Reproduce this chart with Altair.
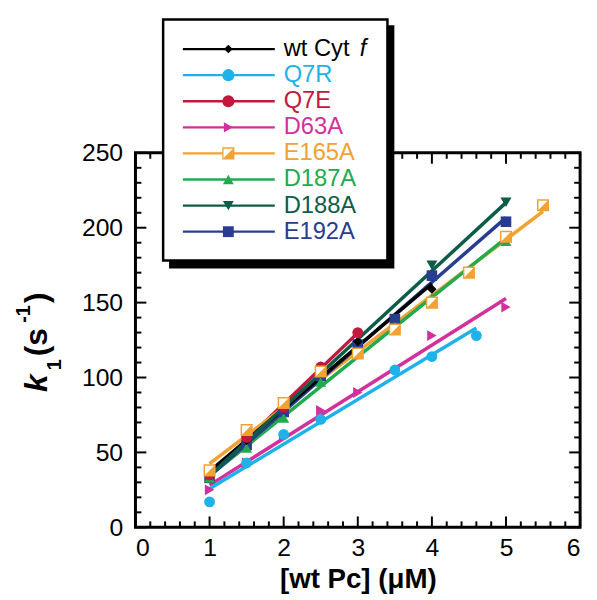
import altair as alt
import pandas as pd

# ---------------- data ----------------
series = ["wt Cyt f", "Q7R", "Q7E", "D63A", "E165A", "D187A", "D188A", "E192A"]
colors = ["#000000", "#1fb2ea", "#c2183c", "#d2309c", "#f2a232", "#22aa4e", "#0c5c4a", "#283c90"]
shapes = ["diamond", "circle", "circle", "triangle-right", "square", "triangle-up", "triangle-down", "square"]

wt_x = [1, 1.5, 2, 2.5, 3, 4]
wt_y = [35, 58, 79, 103, 124, 159]
q7r_x = [1, 1.5, 2, 2.5, 3.5, 4, 4.6]
q7r_y = [17, 43, 62, 72, 105, 114, 128]
q7e_x = [1, 1.5, 2, 2.5, 3]
q7e_y = [35, 60, 80, 107, 130]
d63a_x = [1, 1.5, 2, 2.5, 3, 4, 5]
d63a_y = [25, 43, 60, 78, 90, 128, 147]
e165a_x = [1, 1.5, 2, 2.5, 3, 3.5, 4, 4.5, 5, 5.5]
e165a_y = [38, 65, 83, 104, 116, 132, 150, 170, 194, 215]
d187a_x = [1, 1.5, 2, 2.5, 3, 3.5, 4, 5]
d187a_y = [33, 53, 73, 97, 117, 134, 153, 191]
d188a_x = [1, 1.5, 2, 2.5, 3, 4, 5]
d188a_y = [37, 58, 79, 101, 121, 175, 217]
e192a_x = [1, 1.5, 2, 2.5, 3, 3.5, 4, 5]
e192a_y = [33, 55, 77, 101, 122, 139, 168, 204]

xs = [wt_x, q7r_x, q7e_x, d63a_x, e165a_x, d187a_x, d188a_x, e192a_x]
ys = [wt_y, q7r_y, q7e_y, d63a_y, e165a_y, d187a_y, d188a_y, e192a_y]

x_major = [0, 1, 2, 3, 4, 5, 6]
x_minor = [round(i * 0.2, 1) for i in range(31) if i % 5 != 0]
y_major = [0, 50, 100, 150, 200, 250]
y_minor = [i * 10 for i in range(26) if i % 5 != 0]

# legend row offsets (layout)
legend_rows = [-105 + 26.4 * i for i in range(8)]

W, H = 450, 379
FONT = "Liberation Sans"

frames = {s: pd.DataFrame({"x": xs[i], "y": ys[i]}) for i, s in enumerate(series)}
one = pd.DataFrame({"a": [0]})

xscale = alt.Scale(domain=[0, 6], nice=False, zero=False)
yscale = alt.Scale(domain=[0, 250], nice=False, zero=False)

X = alt.X("x:Q", scale=xscale,
          axis=alt.Axis(values=x_major, ticks=False, domain=False, grid=False,
                        labelFontSize=25, labelFont=FONT, labelColor="black",
                        labelPadding=9, title="[wt Pc] (μM)", titleFont=FONT,
                        titleFontSize=28, titleFontWeight="bold", titleColor="black",
                        titlePadding=5))
Y = alt.Y("y:Q", scale=yscale,
          axis=alt.Axis(values=y_major, ticks=False, domain=False, grid=False,
                        labelFontSize=25, labelFont=FONT, labelColor="black",
                        labelPadding=13, title=None))

layers = []

# regression lines
line_order = ["Q7E", "D63A", "Q7R", "E165A", "D187A", "E192A", "wt Cyt f", "D188A"]
for s in line_order:
    c = colors[series.index(s)]
    layers.append(
        alt.Chart(frames[s]).transform_regression("x", "y")
        .mark_line(color=c, strokeWidth=3.5).encode(x=X, y=Y)
    )

# data points
point_order = ["D188A", "E192A", "D187A", "wt Cyt f", "Q7E", "E165A", "D63A", "Q7R"]
sizes = {"diamond": 90, "circle": 120, "triangle-right": 120, "square": 115,
         "triangle-up": 125, "triangle-down": 125}
half = "M 1 -1 L 1 1 L -1 1 Z"
for s in point_order:
    i = series.index(s)
    c = colors[i]
    sh = shapes[i]
    if s == "E165A":
        layers.append(alt.Chart(frames[s]).mark_point(shape="square", filled=True, fill="white",
                                                      stroke=c, strokeWidth=1.5, size=115, opacity=1)
                      .encode(x=X, y=Y))
        layers.append(alt.Chart(frames[s]).mark_point(shape=half, filled=True, color=c, size=115, opacity=1)
                      .encode(x=X, y=Y))
    else:
        layers.append(alt.Chart(frames[s]).mark_point(shape=sh, filled=True, color=c, size=sizes[sh], opacity=1)
                      .encode(x=X, y=Y))

# frame
layers.append(alt.Chart(one).mark_rect(filled=False, stroke="black", strokeWidth=3)
              .encode(x=alt.value(0), x2=alt.value(W), y=alt.value(0), y2=alt.value(H)))

# inward ticks on all four sides
def xticks(vals, ln):
    d = pd.DataFrame({"x": vals})
    b = alt.Chart(d).mark_rule(color="black", strokeWidth=2).encode(
        x=X, y=alt.value(H), y2=alt.value(H - ln))
    t = alt.Chart(d).mark_rule(color="black", strokeWidth=2).encode(
        x=X, y=alt.value(0), y2=alt.value(ln))
    return [b, t]

def yticks(vals, ln):
    d = pd.DataFrame({"y": vals})
    l = alt.Chart(d).mark_rule(color="black", strokeWidth=2).encode(
        y=Y, x=alt.value(0), x2=alt.value(ln))
    r = alt.Chart(d).mark_rule(color="black", strokeWidth=2).encode(
        y=Y, x=alt.value(W), x2=alt.value(W - ln))
    return [l, r]

layers += xticks(x_major, 11) + xticks(x_minor, 6) + yticks(y_major, 11) + yticks(y_minor, 6)

# legend box with drop shadow
layers.append(alt.Chart(one).mark_rect(color="black")
              .encode(x=alt.value(34), x2=alt.value(262), y=alt.value(-129), y2=alt.value(117)))
layers.append(alt.Chart(one).mark_rect(fill="white", stroke="black", strokeWidth=2.5)
              .encode(x=alt.value(28), x2=alt.value(255), y=alt.value(-135), y2=alt.value(109)))

leg_sizes = {"diamond": 75, "circle": 150, "triangle-right": 110, "square": 120,
             "triangle-up": 120, "triangle-down": 120}
for i, s in enumerate(series):
    c = colors[i]
    ry = legend_rows[i]
    layers.append(alt.Chart(one).mark_rule(color=c, strokeWidth=2.4)
                  .encode(x=alt.value(48), x2=alt.value(141), y=alt.value(ry)))
    if s == "E165A":
        layers.append(alt.Chart(one).mark_point(shape="square", filled=True, fill="white", stroke=c,
                                                strokeWidth=1.3, size=leg_sizes["square"], opacity=1)
                      .encode(x=alt.value(94), y=alt.value(ry)))
        layers.append(alt.Chart(one).mark_point(shape=half, filled=True, color=c,
                                                size=leg_sizes["square"], opacity=1)
                      .encode(x=alt.value(94), y=alt.value(ry)))
    else:
        layers.append(alt.Chart(one).mark_point(shape=shapes[i], filled=True, color=c,
                                                size=leg_sizes[shapes[i]], opacity=1)
                      .encode(x=alt.value(94), y=alt.value(ry)))
    if s == "wt Cyt f":
        layers.append(alt.Chart(one).mark_text(text="wt Cyt", align="left", baseline="middle",
                                               font=FONT, fontSize=24, color=c)
                      .encode(x=alt.value(150), y=alt.value(ry)))
        layers.append(alt.Chart(one).mark_text(text="f", align="left", baseline="middle",
                                               font=FONT, fontSize=24, fontStyle="italic", color=c)
                      .encode(x=alt.value(227), y=alt.value(ry)))
    else:
        layers.append(alt.Chart(one).mark_text(text=s, align="left", baseline="middle",
                                               font=FONT, fontSize=24, color=c)
                      .encode(x=alt.value(150), y=alt.value(ry)))

# y-axis title: k1 (s-1) with italic k, subscript and superscript
def ytxt(t, y, x, size, style="normal"):
    return (alt.Chart(one).mark_text(text=t, align="left", baseline="alphabetic", angle=270,
                                     font=FONT, fontSize=size, fontWeight="bold",
                                     fontStyle=style, color="black")
            .encode(x=alt.value(x), y=alt.value(y)))

layers += [
    ytxt("k", 242, -90, 32, "italic"),
    ytxt("1", 220, -75, 20),
    ytxt("(s", 206, -90, 32),
    ytxt("-1", 172, -107, 20),
    ytxt(")", 152, -90, 32),
]

chart = alt.layer(*layers).properties(
    width=W, height=H,
    autosize=alt.AutoSizeParams(type="none"),
    padding={"left": 129, "top": 143, "right": 9, "bottom": 70},
).configure_view(stroke=None)

chart.save("out.html", embed_options={"renderer": "svg", "actions": False})
